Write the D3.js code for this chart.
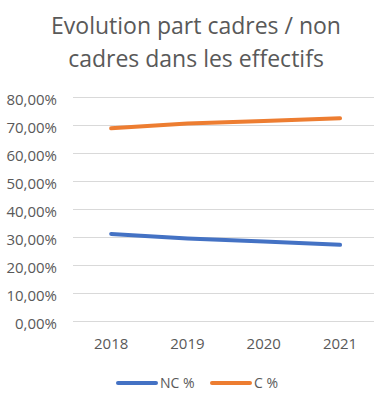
<!DOCTYPE html>
<html>
<head>
<meta charset="utf-8">
<script src="https://cdn.jsdelivr.net/npm/d3@7"></script>
<style>
  html, body { margin: 0; padding: 0; background: #fff; }
  svg { display: block; font-family: "Open Sans", sans-serif; }
</style>
</head>
<body>
<svg id="chart"></svg>
<script>
// data
const years    = ["2018", "2019", "2020", "2021"];
const ncValues = [0.311, 0.295, 0.284, 0.272];
const cValues  = [0.688, 0.705, 0.714, 0.724];
const yTicks   = [0, 0.1, 0.2, 0.3, 0.4, 0.5, 0.6, 0.7, 0.8];
const titleLines = ["Evolution part cadres / non", "cadres dans les effectifs"];
const seriesNames = ["NC %", "C %"];

const width = 374, height = 410;
const colors = ["#4472C4", "#ED7D31"];

const svg = d3.select("#chart")
  .attr("width", width)
  .attr("height", height);

const fr = d3.formatLocale({ decimal: ",", thousands: " ", grouping: [3], currency: ["", " €"] });
const pct = fr.format(".2%");

const x = d3.scaleBand().domain(years).range([73, 378.2]).padding(0);
const y = d3.scaleLinear().domain([0, 0.8]).range([321, 97]);

// title
svg.append("g")
  .selectAll("text")
  .data(titleLines)
  .join("text")
    .attr("x", 196)
    .attr("y", (d, i) => 34 + i * 32.5)
    .attr("text-anchor", "middle")
    .attr("font-size", 23)
    .attr("fill", "#595959")
    .text(d => d);

// y axis w/ gridlines
const yAxis = svg.append("g")
  .attr("transform", "translate(73,0)")
  .call(d3.axisLeft(y).tickValues(yTicks).tickFormat(pct).tickSize(-(378 - 73)).tickPadding(16));
yAxis.select(".domain").remove();
yAxis.selectAll(".tick line").attr("stroke", "#d9d9d9").attr("stroke-width", 1);
yAxis.selectAll(".tick text")
  .attr("fill", "#595959")
  .attr("font-size", 15)
  .attr("font-family", "Open Sans, sans-serif")
  .attr("dy", "0.5em");

// x axis
const xAxis = svg.append("g")
  .attr("transform", "translate(0,321)")
  .call(d3.axisBottom(x).tickSize(0).tickPadding(12));
xAxis.select(".domain").remove();
xAxis.selectAll(".tick text")
  .attr("fill", "#595959")
  .attr("font-size", 15)
  .attr("font-family", "Open Sans, sans-serif")
  .attr("dy", "1.05em");

// lines
const line = d3.line()
  .x((d, i) => x(years[i]) + x.bandwidth() / 2)
  .y(d => y(d));

svg.append("g")
  .selectAll("path")
  .data([ncValues, cValues])
  .join("path")
    .attr("d", line)
    .attr("fill", "none")
    .attr("stroke", (d, i) => colors[i])
    .attr("stroke-width", 4)
    .attr("stroke-linecap", "round")
    .attr("stroke-linejoin", "round");

// legend
const legendX = [118, 212];
const lg = svg.append("g")
  .selectAll("g")
  .data(seriesNames)
  .join("g")
    .attr("transform", (d, i) => `translate(${legendX[i]},383)`);
lg.append("line")
  .attr("x1", 0).attr("x2", 38)
  .attr("stroke", (d, i) => colors[i])
  .attr("stroke-width", 4)
  .attr("stroke-linecap", "round");
lg.append("text")
  .attr("x", 42)
  .attr("dy", "0.35em")
  .attr("font-size", 14)
  .attr("fill", "#595959")
  .text(d => d);
</script>
</body>
</html>
